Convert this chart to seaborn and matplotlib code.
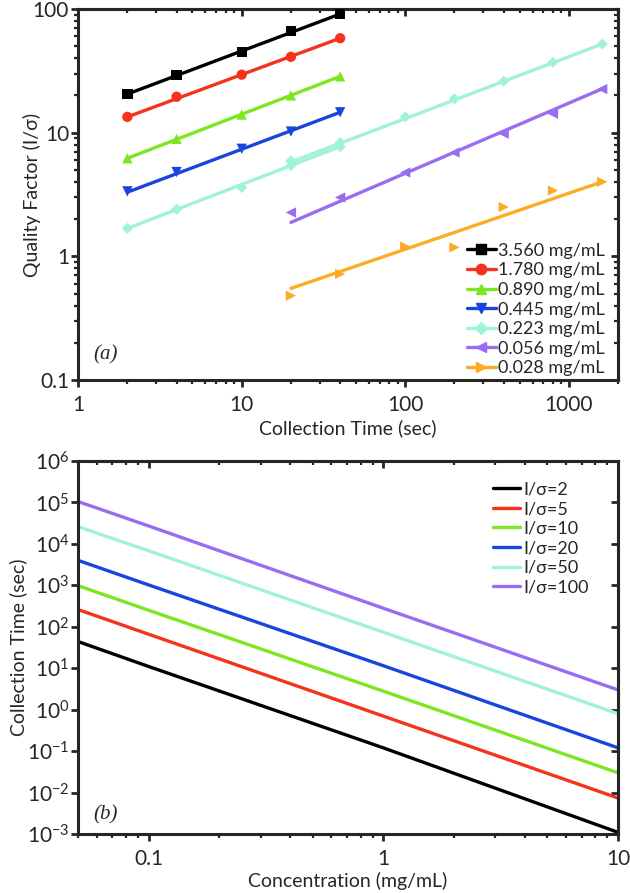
import numpy as np
import pandas as pd
import matplotlib
matplotlib.use("Agg")
import matplotlib.pyplot as plt
import matplotlib.ticker as mticker
from matplotlib.lines import Line2D
import seaborn as sns

# ---- panel (a): quality factor vs collection time ----
conc_labels = ["3.560 mg/mL", "1.780 mg/mL", "0.890 mg/mL", "0.445 mg/mL",
               "0.223 mg/mL", "0.056 mg/mL", "0.028 mg/mL"]
conc_colors = ["#000000", "#f5331c", "#7ce620", "#1a44e0", "#a0f2d8", "#9a6cf0", "#fbac24"]
conc_markers = ["s", "o", "^", "v", "D", "<", ">"]

time_short = [2, 4, 10, 20, 40]
time_long = [20, 40, 100, 200, 400, 800, 1600]

q_3560 = [20.5, 29.4, 45, 66, 91]
q_1780 = [13.4, 19.5, 29.4, 41, 58]
q_0890 = [6.2, 8.9, 14, 20, 28.5]
q_0445 = [3.35, 4.8, 7.4, 10.2, 14.6]
q_0223_short = [1.68, 2.4, 3.6, 5.4, 7.7]
q_0223_long = [5.9, 8.3, 13.4, 18.8, 26, 37, 52]
q_0056 = [2.26, 2.99, 4.76, 6.9, 9.8, 14.2, 22.5]
q_0028 = [0.48, 0.72, 1.2, 1.18, 2.5, 3.4, 4.0]

# fitted lines (value at first and last collection time)
fit_3560 = [20.5, 91]
fit_1780 = [13.4, 58]
fit_0890 = [6.2, 28.5]
fit_0445 = [3.3, 14.6]
fit_0223_short = [1.68, 7.7]
fit_0223_long = [5.8, 52]
fit_0056 = [1.88, 22.6]
fit_0028 = [0.55, 4.0]

# ---- panel (b): required collection time vs concentration ----
isig_labels = ["I/σ=2", "I/σ=5", "I/σ=10", "I/σ=20", "I/σ=50", "I/σ=100"]
isig_colors = ["#000000", "#f5331c", "#7ce620", "#1a44e0", "#a0f2d8", "#9a6cf0"]
conc = [0.05, 0.1, 1, 10]
t_2 = [44, 11, 0.12, 0.0011]
t_5 = [260, 66, 0.7, 0.0074]
t_10 = [980, 250, 2.8, 0.03]
t_20 = [4000, 1020, 11.5, 0.12]
t_50 = [26000, 6800, 74, 0.8]
t_100 = [105000, 27000, 280, 3.0]

sns.set_style("ticks")
plt.rcParams["font.family"] = ["Lato", "DejaVu Sans"]
plt.rcParams["mathtext.fontset"] = "custom"
plt.rcParams["mathtext.rm"] = "Lato"
plt.rcParams["mathtext.it"] = "Lato:italic"
plt.rcParams["axes.linewidth"] = 2.2

FS_TICK = 15
FS_LABEL = 14
FS_LEG = 13

fig = plt.figure(figsize=(6.3, 8.93), dpi=100)
ax1 = fig.add_axes([0.124, 0.5745, 0.857, 0.4155])
ax2 = fig.add_axes([0.124, 0.066, 0.857, 0.4178])

# fitted lines
lines_a = [
    (time_short, fit_3560, 0), (time_short, fit_1780, 1), (time_short, fit_0890, 2),
    (time_short, fit_0445, 3), (time_short, fit_0223_short, 4),
    (time_long, fit_0223_long, 4), (time_long, fit_0056, 5), (time_long, fit_0028, 6),
]
for t, fit, i in lines_a:
    df = pd.DataFrame({"t": [t[0], t[-1]], "q": fit})
    sns.lineplot(data=df, x="t", y="q", color=conc_colors[i], lw=2.4, ax=ax1, legend=False)

pts_a = [
    (time_short, q_3560, 0), (time_short, q_1780, 1), (time_short, q_0890, 2),
    (time_short, q_0445, 3), (time_short, q_0223_short, 4),
    (time_long, q_0223_long, 4), (time_long, q_0056, 5), (time_long, q_0028, 6),
]
for t, q, i in pts_a:
    df = pd.DataFrame({"t": t, "q": q})
    size = 55 if conc_markers[i] != "D" else 32
    sns.scatterplot(data=df, x="t", y="q", color=conc_colors[i], marker=conc_markers[i],
                    s=size, edgecolor="none", ax=ax1, legend=False, zorder=3)

ax1.set_xscale("log")
ax1.set_yscale("log")
ax1.set_xlim(1, 2000)
ax1.set_ylim(0.1, 100)
ax1.set_xlabel("Collection Time (sec)", fontsize=FS_LABEL, labelpad=3)
ax1.set_ylabel("Quality Factor (I/σ)", fontsize=FS_LABEL)
ax1.yaxis.set_label_coords(-0.068, 0.5)
ax1.xaxis.set_major_formatter(mticker.FuncFormatter(lambda v, _: f"{v:g}"))
ax1.yaxis.set_major_formatter(mticker.FuncFormatter(lambda v, _: f"{v:g}"))
ax1.xaxis.set_minor_formatter(mticker.NullFormatter())
ax1.yaxis.set_minor_formatter(mticker.NullFormatter())
ax1.text(0.028, 0.055, "(a)", transform=ax1.transAxes, fontsize=15,
         family="Liberation Serif", style="italic")

handles_a = [Line2D([], [], color=c, marker=m, lw=2.4, markersize=7.5 if m != "D" else 6)
             for c, m in zip(conc_colors, conc_markers)]
ax1.legend(handles_a, conc_labels, loc="upper left", frameon=False, fontsize=FS_LEG,
           handlelength=1.6, handletextpad=0.15, labelspacing=0.2,
           borderaxespad=0, borderpad=0, bbox_to_anchor=(0.72, 0.37))

# panel (b)
rows = []
for lab, tv in zip(isig_labels, [t_2, t_5, t_10, t_20, t_50, t_100]):
    for c, t in zip(conc, tv):
        rows.append({"conc": c, "time": t, "ratio": lab})
df_b = pd.DataFrame(rows)
sns.lineplot(data=df_b, x="conc", y="time", hue="ratio", hue_order=isig_labels,
             palette=isig_colors, lw=2.4, ax=ax2)

ax2.set_xscale("log")
ax2.set_yscale("log")
ax2.set_xlim(0.05, 10)
ax2.set_ylim(1e-3, 1e6)
ax2.set_xlabel("Concentration (mg/mL)", fontsize=FS_LABEL, labelpad=2)
ax2.set_ylabel("Collection Time (sec)", fontsize=FS_LABEL)
ax2.yaxis.set_label_coords(-0.094, 0.5)
ax2.xaxis.set_major_formatter(mticker.FuncFormatter(lambda v, _: f"{v:g}"))
ax2.xaxis.set_minor_formatter(mticker.NullFormatter())
ax2.yaxis.set_major_locator(mticker.LogLocator(base=10, numticks=20))
ax2.yaxis.set_minor_locator(mticker.NullLocator())
ax2.yaxis.set_major_formatter(mticker.FuncFormatter(
    lambda v, _: "$10^{%d}$" % int(round(np.log10(v)))))
ax2.text(0.028, 0.04, "(b)", transform=ax2.transAxes, fontsize=15,
         family="Liberation Serif", style="italic")
ax2.legend(loc="upper left", frameon=False, fontsize=FS_LEG, handlelength=1.5,
           handletextpad=0.15, labelspacing=0.2, borderaxespad=0, borderpad=0,
           bbox_to_anchor=(0.769, 0.945), title=None)

for ax in (ax1, ax2):
    ax.tick_params(axis="both", which="major", direction="out", length=5, width=2,
                   labelsize=FS_TICK, pad=1.5)
    ax.tick_params(axis="x", which="major", pad=6)
    ax.tick_params(axis="both", which="minor", direction="out", length=3, width=1.6)
    top = ax.secondary_xaxis("top")
    top.tick_params(axis="x", which="major", direction="in", length=5, width=2, labeltop=False)
    top.tick_params(axis="x", which="minor", direction="in", length=3, width=1.6)
    right = ax.secondary_yaxis("right")
    right.tick_params(axis="y", which="major", direction="in", length=5, width=2, labelright=False)
    right.tick_params(axis="y", which="minor", direction="in", length=3, width=1.6)
    if ax is ax2:
        right.yaxis.set_major_locator(mticker.LogLocator(base=10, numticks=20))
        right.yaxis.set_minor_locator(mticker.NullLocator())
    for s in ax.spines.values():
        s.set_linewidth(2.2)

fig.savefig("out.png", dpi=100)
